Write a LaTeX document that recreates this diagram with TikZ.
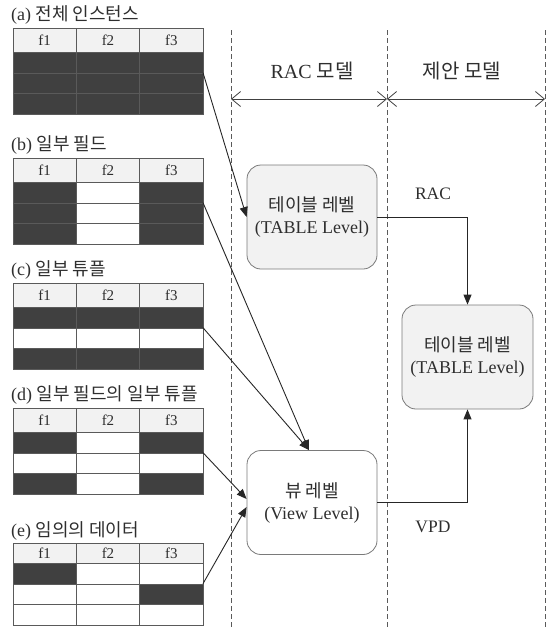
\documentclass[tikz,border=0pt]{standalone}
\usepackage{fontspec}
\setmainfont{Liberation Serif}
\newfontfamily\kr{Noto Sans CJK KR}
\usetikzlibrary{arrows.meta}
\definecolor{dk}{HTML}{404040}
\definecolor{hd}{HTML}{F2F2F2}
\definecolor{ln}{HTML}{5A5A5A}
\definecolor{tx}{HTML}{2E2E2E}
\definecolor{bx}{HTML}{7A7A7A}
\newcommand\drawtbl[4]{%
  \fill[hd] (13,#1) rectangle (203,#1+#2);
  \foreach \cc/\rr in {#3}{\fill[dk] ({13+63.33*(\cc-1)},{#1+#2+20.7*(\rr-1)}) rectangle ++(63.33,20.7);}
  \draw[ln] (13,#1+#2) -- (203,#1+#2) (13,#1+#2+20.7) -- (203,#1+#2+20.7) (13,#1+#2+41.4) -- (203,#1+#2+41.4);
  \draw[ln] (76.33,#1) -- (76.33,#1+#2+62.1) (139.67,#1) -- (139.67,#1+#2+62.1);
  \draw[ln] (13,#1) rectangle (203,#1+#2+62.1);
  \node[hdr] (#4h1) at (44.67,#1+#2/2) {f1};
  \node[hdr] (#4h2) at (108,#1+#2/2) {f2};
  \node[hdr] (#4h3) at (171.33,#1+#2/2) {f3};
  \coordinate (#4) at (203,#1+#2+20.7);
}
\begin{document}
\begin{tikzpicture}[x=1pt,y=-1pt,
  hdr/.style={font=\fontsize{15}{15}\selectfont, text=tx, inner sep=0pt},
  lbl/.style={font=\fontsize{18}{18}\selectfont, text=tx, anchor=west, inner sep=0pt},
  ttl/.style={font=\fontsize{20}{20}\selectfont, text=tx, inner sep=0pt},
  conn/.style={font=\fontsize{17.5}{17.5}\selectfont, text=tx, inner sep=0pt},
  lvl/.style={draw=bx, line width=0.8pt, rounded corners=14pt, minimum width=130pt, minimum height=104pt, align=center, text=tx, font=\fontsize{18}{22}\selectfont, inner sep=0pt},
  sep/.style={draw=ln, line width=0.8pt, dash pattern=on 5pt off 3pt},
  link/.style={draw=black!85, line width=0.9pt, -{Triangle[length=10pt,width=8pt]}},
  span/.style={draw=black!75, line width=0.8pt, {Straight Barb[length=9pt,width=15pt]}-{Straight Barb[length=9pt,width=15pt]}}
]
\useasboundingbox (0,0) rectangle (548,627);

% dashed separators
\coordinate (s1t) at (231,30); \coordinate (s1b) at (231,627);
\coordinate (s2t) at (387,30); \coordinate (s2b) at (387,627);
\coordinate (s3t) at (545,30); \coordinate (s3b) at (545,627);
\draw[sep] (s1t) -- (s1b);
\draw[sep] (s2t) -- (s2b);
\draw[sep] (s3t) -- (s3b);

% headings
\node[ttl] (rac) at (312,71) {RAC {\kr 모델}};
\node[ttl] (prop) at (462,71) {\kr 제안 모델};
\coordinate (a1) at (231,99); \coordinate (a2) at (387,99); \coordinate (a3) at (545,99);
\draw[span] (a1) -- (a2);
\draw[span] (a2) -- (a3);

% tables
\node[lbl] (la) at (11,15) {(a) {\kr 전체 인스턴스}};
\drawtbl{28}{24}{1/1,2/1,3/1,1/2,2/2,3/2,1/3,2/3,3/3}{ta}
\node[lbl] (lb) at (11,145) {(b) {\kr 일부 필드}};
\drawtbl{158}{24}{1/1,3/1,1/2,3/2,1/3,3/3}{tb}
\node[lbl] (lc) at (11,270) {(c) {\kr 일부 튜플}};
\drawtbl{283}{24}{1/1,2/1,3/1,1/3,2/3,3/3}{tc}
\node[lbl] (ld) at (11,395) {(d) {\kr 일부 필드의 일부 튜플}};
\drawtbl{408}{24}{1/1,3/1,1/3,3/3}{td}
\node[lbl] (le) at (11,531) {(e) {\kr 임의의 데이터}};
\drawtbl{543}{20}{1/1,3/2}{te}

% level boxes
\node[lvl, fill=hd] (tbl) at (312,217) {{\kr 테이블 레벨}\\(TABLE Level)};
\node[lvl, fill=white] (view) at (312,502.5) {{\kr 뷰 레벨}\\(View Level)};
\node[lvl, fill=hd, minimum width=131pt] (pro) at (467.5,357) {{\kr 테이블 레벨}\\(TABLE Level)};

% connectors
\draw[link] (ta) -- (tbl.west);
\draw[link] (tb) -- ([xshift=-3pt]view.north);
\draw[link] (tc) -- ([xshift=-3pt]view.north);
\draw[link] (td) -- ([yshift=3.5pt]view.west);
\draw[link] (te) -- ([yshift=-4.5pt]view.west);
\draw[link] (tbl.east) -| (pro.north);
\draw[link] (view.east) -| (pro.south);
\node[conn] (lrac) at (433,194) {RAC};
\node[conn] (lvpd) at (433,527) {VPD};
\end{tikzpicture}
\end{document}
